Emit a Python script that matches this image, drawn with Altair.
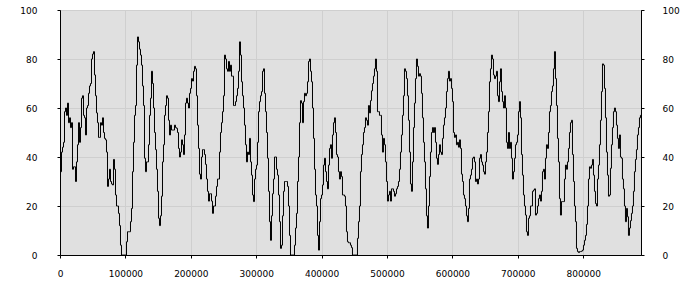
import altair as alt
import pandas as pd

# x spacing between consecutive readings (data units)
x_step = 1529

values = [
    30, 34, 42, 44, 46, 58.5, 60, 57, 62, 54,
    56, 52, 54, 35, 36, 36, 30, 38, 45, 54,
    46, 52, 64, 65, 57, 56, 49, 60, 61, 66,
    69, 70, 80, 82, 83, 73.5, 65, 58, 54, 48,
    48, 54, 53, 56, 50, 47.6, 47, 42, 28, 31,
    35, 30, 29, 28.6, 39, 35, 24.5, 20, 20, 17,
    12, 4, 0, 0, 0, 0, 0, 5.4, 9.5, 9.5,
    9.5, 13.6, 19, 34, 46, 57, 61, 77.5, 89, 87,
    84, 81.6, 77.5, 69, 61, 39.5, 34, 38, 38, 45,
    57, 64, 75, 70, 60, 50, 43, 35, 26, 15,
    12, 16, 24, 38, 45, 57, 61, 65, 64, 55,
    49, 53, 51, 51, 51, 53, 52, 51.7, 50, 43.5,
    40, 42, 47, 45, 41, 49, 62, 64, 62, 60,
    66, 68, 72, 71, 75, 77, 76, 65, 53, 43.5,
    33, 31, 40, 43, 43, 41, 37, 31, 26, 22,
    25, 25, 22, 17, 20, 20, 24, 28, 31, 31,
    42, 50, 54, 58.5, 65, 81.6, 80, 76, 75, 79,
    75, 77.5, 73, 73, 61, 61, 62.6, 65, 68, 75,
    87, 81.6, 70.7, 65, 60, 53, 45, 38, 42, 41,
    47.6, 38, 32.6, 24.5, 21.8, 31, 35, 36.7, 46, 58.5,
    62.6, 65, 66.7, 75, 76, 66, 58.5, 50, 39.5, 26,
    13.6, 6, 16, 25, 31, 40, 40, 35, 32.6, 24.5,
    13.6, 2.7, 4, 16, 26, 30, 30, 30, 28, 20,
    8, 0, 0, 0, 0, 4, 11, 17, 30, 40,
    54, 63, 62, 54, 62.6, 66, 65, 66, 70.7, 79,
    80, 75, 70.7, 60, 47.6, 35, 24.5, 20, 8, 2,
    13.6, 23, 24.5, 28.6, 36.7, 39.5, 34, 30, 27, 36.7,
    43.5, 45, 39.5, 49, 54, 56, 50, 41, 40, 34,
    31, 34, 32, 24.5, 24.5, 24, 20, 9.5, 5.4, 5,
    5, 4, 3, 0, 0, 0, 0, 0, 6.8, 13.6,
    20, 34, 41, 45, 50, 52, 56, 55, 53, 61,
    58, 63, 67, 70, 73, 76, 80, 75, 58.5, 58.5,
    57, 57, 49, 42, 47.6, 45, 38, 30, 22, 24.5,
    26, 22, 27, 27, 26, 24, 25, 27, 28, 30,
    35, 42, 49, 57, 65, 76, 75, 72, 65, 55,
    42, 29, 26, 38, 52, 62, 72, 80, 77, 73,
    74, 73, 66, 56, 46, 38, 27, 16, 11, 20,
    32, 42, 50, 52, 50, 52, 46, 39.5, 37, 41,
    45, 42, 41, 47.6, 53, 56, 60, 66.7, 72, 75,
    71, 72, 68, 62.6, 50, 48, 49, 45, 46, 44,
    47, 43.5, 33, 30, 24.5, 23, 20, 16, 13.6, 19,
    31, 32.6, 35, 39.5, 40, 38, 30, 31, 29, 31,
    39.5, 41, 38, 36.7, 34, 33, 38, 42, 50, 58.5,
    70.7, 76, 81.6, 80, 73.5, 72, 73, 75, 65, 62.6,
    70.7, 76, 66.7, 62.6, 60, 65, 60, 46, 43.5, 50,
    43.5, 46, 39.5, 31, 34, 39.5, 45, 46, 49, 58.5,
    62.6, 56, 41, 32.6, 24.5, 20, 16.3, 9.5, 8, 15,
    16, 20, 20, 26, 26.5, 27, 16.3, 17, 20, 23,
    24.5, 22, 26, 34, 35, 31, 39.5, 45, 43.5, 50,
    58.5, 61, 66.7, 69, 76, 83, 72, 61, 47.6, 38,
    23, 16.3, 21.8, 21.8, 21.8, 31, 36.7, 35, 38, 43.5,
    50, 54, 55, 41, 30, 20, 13.6, 2.7, 1.4, 1,
    1.4, 1.4, 1.6, 2, 4, 6, 8, 12.5, 20, 31,
    36, 35.4, 36.7, 39, 32.6, 26, 21, 20, 31, 36.7,
    45, 55, 66.7, 78, 77.5, 68, 56, 42, 32.6, 24,
    24.5, 35.4, 45, 52, 58.5, 60, 58.5, 53, 47.6, 43.5,
    49, 40, 39.5, 31, 27, 20, 13.6, 19, 15.6, 8,
    11, 14, 17, 20, 26, 34, 39, 43, 49, 52,
    56, 57,
]

x_ticks = [0, 100000, 200000, 300000, 400000, 500000, 600000, 700000, 800000]
y_ticks = [0, 20, 40, 60, 80, 100]
x_max = 888400

df = pd.DataFrame({"x": [i * x_step for i in range(len(values))], "y": values})

FONT = "DejaVu Sans"

xenc = alt.X(
    "x:Q",
    scale=alt.Scale(domain=[0, x_max], nice=False, zero=False),
    axis=alt.Axis(values=x_ticks, format="d", title=None, tickSize=3,
                  labelPadding=11, labelFlush=False, grid=True),
)

left = alt.Chart(df).mark_line(color="black", strokeWidth=1, clip=True,
                               interpolate="step").encode(
    x=xenc,
    y=alt.Y("y:Q", scale=alt.Scale(domain=[0, 100], nice=False),
            axis=alt.Axis(values=y_ticks, orient="left", title=None, tickSize=3,
                          labelPadding=20, grid=True)),
)

right = alt.Chart(df).mark_line(opacity=0, clip=True).encode(
    x=xenc,
    y=alt.Y("y:Q", scale=alt.Scale(domain=[0, 100], nice=False),
            axis=alt.Axis(values=y_ticks, orient="right", title=None, tickSize=3,
                          labelPadding=18, grid=False)),
)

chart = (
    alt.layer(left, right)
    .resolve_axis(y="independent")
    .properties(
        width=581,
        height=245,
        autosize=alt.AutoSizeParams(type="none"),
        padding={"left": 60, "top": 10, "right": 59, "bottom": 45},
        background="white",
    )
    .configure_view(fill="#e0e0e0", stroke="black", strokeWidth=1)
    .configure_axis(
        domainColor="black",
        tickColor="black",
        labelColor="black",
        labelFont=FONT,
        labelFontSize=9,
        gridColor="#cfcfcf",
        gridWidth=1,
    )
)

chart.save("out.html", embed_options={"renderer": "svg", "actions": False})
